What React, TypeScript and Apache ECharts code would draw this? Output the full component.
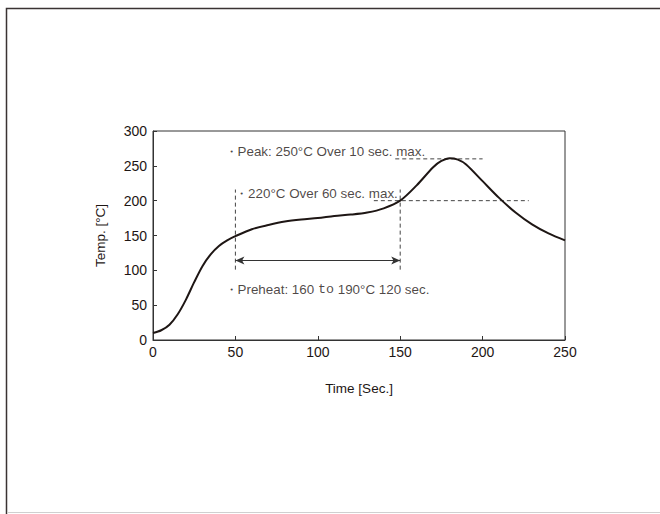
import React, { useEffect, useRef } from "react";
import * as echarts from "echarts";

const times = [0, 5, 10, 15, 20, 25, 30, 35, 40, 45, 50, 60, 70, 80, 90, 100, 110, 120, 130, 140, 150, 160, 170, 175, 180, 185, 190, 200, 210, 220, 230, 240, 250];
const temps = [10, 14, 22, 37, 58, 83, 106, 123, 135, 143, 149, 159, 165, 170, 173, 175, 178, 180, 183, 189, 200, 222, 248, 257, 261, 259, 252, 228, 204, 183, 166, 153, 143];

const xTicks = [0, 50, 100, 150, 200, 250];
const yTicks = [0, 50, 100, 150, 200, 250, 300];

// dashed guide segments: [x1, y1, x2, y2]
const guideSegments = [
  [147, 260, 200, 260],
  [134, 200, 228, 200],
  [50, 101, 50, 216],
  [150, 101, 150, 216],
];
const arrowSpan = [50, 150, 114];

// annotation texts: [x, y, rich text]
const notes: [number, number, string][] = [
  [43.4, 270, "{a|・Peak: 250°C Over 10 sec. max.}"],
  [49.8, 211, "{a|・220°C Over 60 sec. max.}"],
  [43.4, 73, "{a|・Preheat: 160 }{m|to}{a| 190°C 120 sec.}"],
];

const INK = "#1e1614";
const FONT = "'Liberation Sans', Arial, Helvetica, sans-serif";

export default function App() {
  const ref = useRef<HTMLDivElement>(null);
  useEffect(() => {
    document.body.style.margin = "0";
    if (!ref.current) return;
    const chart = echarts.init(ref.current, undefined, { renderer: "svg" });
    const guideSeries = guideSegments.map((s, i) => ({
      type: "line",
      name: "guide" + i,
      data: [
        [s[0], s[1]],
        [s[2], s[3]],
      ],
      symbol: "none",
      silent: true,
      lineStyle: { color: "#444", width: 1, type: [4, 3] },
      z: 1,
    }));
    chart.setOption({
      animation: false,
      backgroundColor: "#fff",
      textStyle: { fontFamily: FONT },
      graphic: [
        {
          type: "rect",
          shape: { x: 6.5, y: 8.5, width: 720, height: 600 },
          style: { fill: "none", stroke: "#3a3333", lineWidth: 1.5 },
          silent: true,
        },
        {
          type: "line",
          shape: { x1: 7, y1: 512.5, x2: 660, y2: 512.5 },
          style: { stroke: "#d0d0d0", lineWidth: 1 },
          silent: true,
        },
      ],
      grid: {
        left: 153,
        top: 131,
        width: 412,
        height: 209,
        show: true,
        borderColor: "#333",
        borderWidth: 1,
      },
      xAxis: {
        type: "value",
        min: xTicks[0],
        max: xTicks[xTicks.length - 1],
        interval: 50,
        name: "Time [Sec.]",
        nameLocation: "middle",
        nameGap: 41,
        nameTextStyle: { color: INK, fontSize: 13.5, fontFamily: FONT },
        axisLine: { show: true, lineStyle: { color: "#333", width: 1 } },
        axisTick: { show: true, inside: true, length: 4, lineStyle: { color: "#333" } },
        axisLabel: { color: INK, fontSize: 14, margin: 5, fontFamily: FONT },
        splitLine: { show: false },
      },
      yAxis: {
        type: "value",
        min: yTicks[0],
        max: yTicks[yTicks.length - 1],
        interval: 50,
        name: "Temp. [°C]",
        nameLocation: "middle",
        nameGap: 46,
        nameRotate: 90,
        nameTextStyle: { color: INK, fontSize: 13.5, fontFamily: FONT },
        axisLine: { show: true, lineStyle: { color: "#333", width: 1 } },
        axisTick: { show: true, inside: true, length: 4, lineStyle: { color: "#333" } },
        axisLabel: { color: INK, fontSize: 14, margin: 6, fontFamily: FONT },
        splitLine: { show: false },
      },
      series: [
        ...guideSeries,
        {
          type: "line",
          name: "arrow",
          data: [],
          symbol: "none",
          markLine: {
            silent: true,
            symbol: ["arrow", "arrow"],
            symbolSize: [6, 9],
            label: { show: false },
            lineStyle: { color: "#333", width: 1, type: "solid" },
            data: [
              [
                { coord: [arrowSpan[0], arrowSpan[2]] },
                { coord: [arrowSpan[1], arrowSpan[2]] },
              ],
            ],
          },
        },
        {
          type: "line",
          name: "profile",
          data: times.map((t, i) => [t, temps[i]]),
          symbol: "none",
          smooth: 0.3,
          lineStyle: { color: INK, width: 2 },
          z: 3,
        },
        {
          type: "scatter",
          name: "notes",
          data: notes.map((n) => [n[0], n[1], n[2]]),
          symbolSize: 0,
          silent: true,
          label: {
            show: true,
            position: "right",
            distance: 0,
            formatter: (p: any) => p.data[2],
            rich: {
              a: { fontSize: 13.4, color: INK, fontFamily: FONT },
              m: { fontSize: 13.4, color: INK, fontFamily: "'Liberation Mono', 'DejaVu Sans Mono', monospace" },
            },
          },
          z: 4,
        },
      ],
    });
    return () => chart.dispose();
  }, []);
  return <div ref={ref} style={{ width: 660, height: 514 }} />;
}
